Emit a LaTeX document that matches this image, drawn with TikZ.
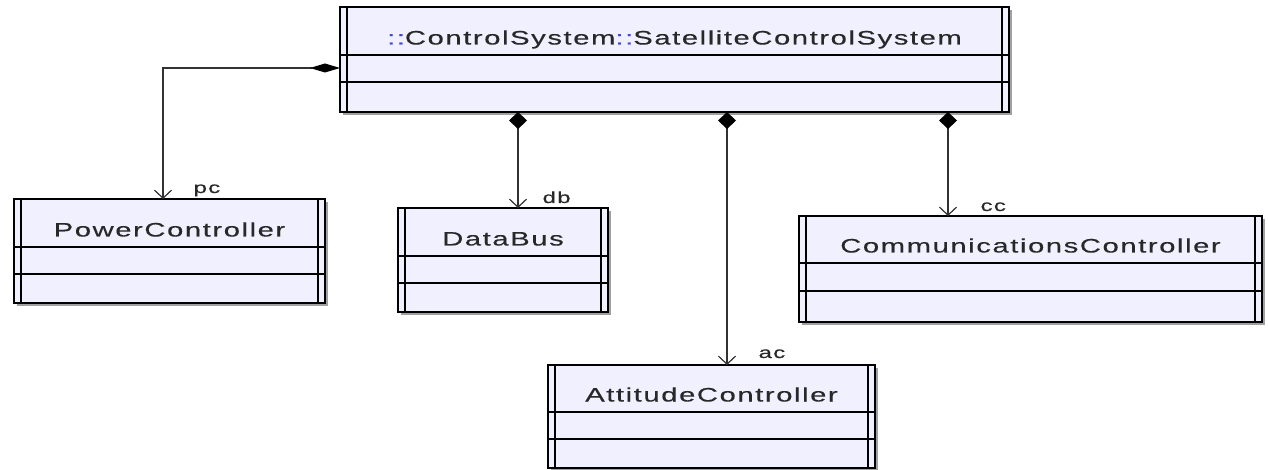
\documentclass[tikz,border=0pt]{standalone}
\usepackage{fontspec}
\usetikzlibrary{arrows.meta,calc}
\newfontfamily\umlfont[FakeStretch=1.5,LetterSpace=8,FakeBold=0.25]{Liberation Sans}
\definecolor{classfill}{RGB}{240,240,255}
\definecolor{classshadow}{RGB}{160,160,160}
\definecolor{nsblue}{RGB}{70,70,220}
\definecolor{inktext}{RGB}{40,40,40}
\definecolor{wire}{RGB}{50,50,50}

% one UML class: name, left, top, right, bottom, first divider, second divider, title
\newcommand\umlclass[8]{%
  \fill[classshadow] (#2+3,#3+3) rectangle (#4+3,#5+3);
  \node[classnode, anchor=north west,
        minimum width={(#4-#2)*1pt}, minimum height={(#5-#3)*1pt}] (#1) at (#2,#3) {};
  \draw[classline] (#2+7,#3) -- (#2+7,#5);
  \draw[classline] (#4-7,#3) -- (#4-7,#5);
  \draw[classline] (#2,#6) -- (#4,#6);
  \draw[classline] (#2,#7) -- (#4,#7);
  \node[titletext, anchor=base] at ({(#2+#4)/2},#6-10.5) {#8};
}

\tikzset{
  classnode/.style={draw=black, fill=classfill, line width=1.4pt, inner sep=0pt, outer sep=0pt},
  classline/.style={draw=black, line width=1.4pt},
  titletext/.style={inner sep=0pt, text=inktext, font=\umlfont\fontsize{19.5}{22}\selectfont},
  rolelabel/.style={inner sep=0pt, text=inktext, font=\umlfont\fontsize{16}{18}\selectfont},
  compoh/.style={draw=wire, line width=1.2pt,
    {Diamond[length=30pt,width=9pt,fill=black,color=black]}-{Straight Barb[length=8pt,width=17pt]}},
  compov/.style={draw=wire, line width=1.2pt,
    {Diamond[length=17pt,width=18pt,fill=black,color=black]}-{Straight Barb[length=8pt,width=17pt]}},
}

\begin{document}
\begin{tikzpicture}[x=1pt,y=-1pt]
\useasboundingbox (0,0) rectangle (1268,470);

\umlclass{scs}{340}{7}{1009}{112}{55}{82}{\textcolor{nsblue}{::}ControlSystem\textcolor{nsblue}{::}SatelliteControlSystem}
\umlclass{pc}{14}{199}{325}{303}{247}{274}{PowerController}
\umlclass{db}{398}{208}{608}{312}{256}{283}{DataBus}
\umlclass{cc}{799}{216}{1262}{322}{263}{291}{CommunicationsController}
\umlclass{ac}{548}{365}{875}{468}{412}{439}{AttitudeController}

% composition links from the satellite control system to its parts
\coordinate (pcstart) at ($(scs.north west)+(0,61)$);
\coordinate (pcend) at ($(pc.north west)+(149,0)$);
\draw[compoh] (pcstart) -| (pcend)
  node[rolelabel, anchor=base west, xshift=30pt, yshift=6pt] {pc};

\coordinate (dbstart) at ($(scs.south west)+(178,0)$);
\draw[compov] (dbstart) -- (dbstart |- db.north)
  node[rolelabel, anchor=base west, xshift=24pt, yshift=5pt] {db};

\coordinate (acstart) at ($(scs.south west)+(387,0)$);
\draw[compov] (acstart) -- (acstart |- ac.north)
  node[rolelabel, anchor=base west, xshift=31pt, yshift=7pt] {ac};

\coordinate (ccstart) at ($(scs.south west)+(608,0)$);
\draw[compov] (ccstart) -- (ccstart |- cc.north)
  node[rolelabel, anchor=base west, xshift=32pt, yshift=5pt] {cc};
\end{tikzpicture}
\end{document}
